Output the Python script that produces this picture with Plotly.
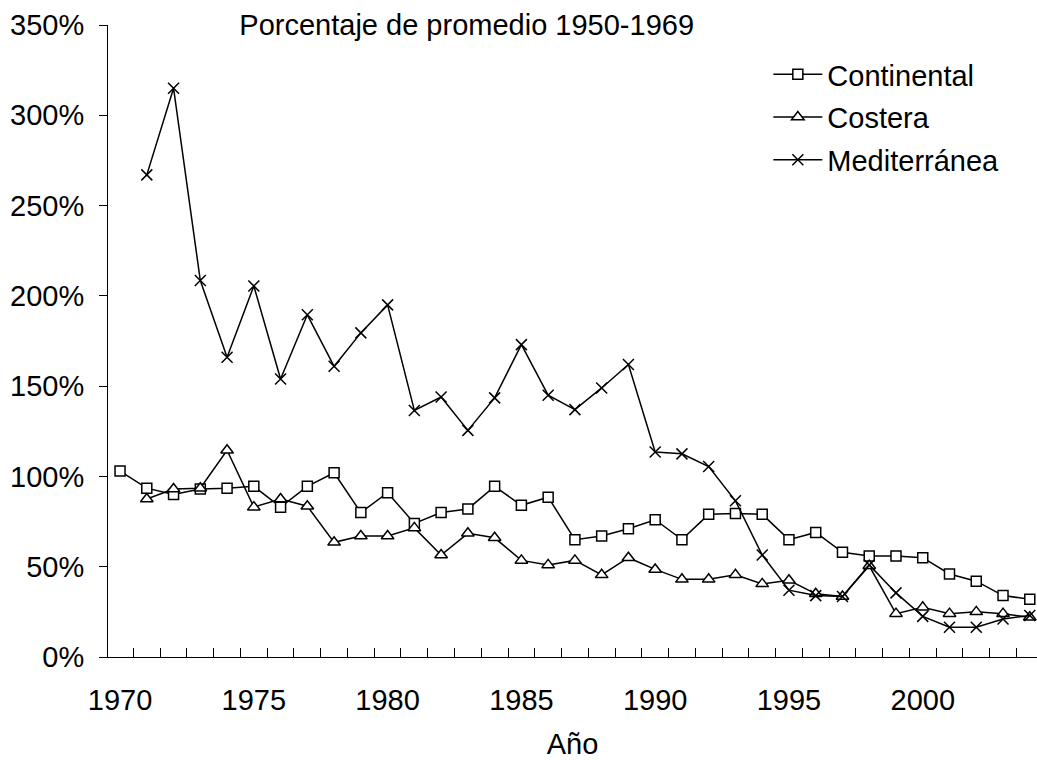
import plotly.graph_objects as go

years = list(range(1970, 2005))

continental = [103, 93.5, 90, 93, 93.5, 94.5, 83, 94.5, 102, 80,
               91, 74, 80, 82, 94.5, 84, 88.5, 65, 67, 71,
               76, 65, 79, 79.5, 79, 65, 69, 58, 56, 56,
               55, 46, 42, 34, 32]

costera = [None, 87.5, 93, 93.5, 114.5, 83, 87.5, 83.5, 63.5, 67,
           67, 71.5, 56.5, 68.5, 66, 53.5, 51, 53.5, 45.5, 55,
           48.5, 43, 43, 45.5, 40.5, 42.5, 35, 33.5, 50.5, 24,
           27.5, 24, 25, 24, 22]

mediterranea = [None, 267, 315, 208.5, 166, 205.5, 154, 189.5, 161, 179.5,
                195, 136.5, 144, 125.5, 143.5, 173, 145, 137, 149, 162,
                113.5, 112.5, 105.5, 86.5, 56.5, 37, 34, 33.5, 51, 35.5,
                22.5, 16.5, 16.5, 21, 23]

series_names = ["Continental", "Costera", "Mediterránea"]
x_tick_years = [1970, 1975, 1980, 1985, 1990, 1995, 2000]
y_ticks = [0, 50, 100, 150, 200, 250, 300, 350]
y_tick_labels = ["0%", "50%", "100%", "150%", "200%", "250%", "300%", "350%"]

FONT = "Liberation Sans, Arial, sans-serif"
FS = 29

fig = go.Figure()

fig.add_trace(go.Scatter(
    x=years, y=continental, name=series_names[0], mode="lines+markers",
    line=dict(color="black", width=1.5),
    marker=dict(symbol="square", size=10, color="white",
                line=dict(color="black", width=1.5)),
    legendgroup="a"))

fig.add_trace(go.Scatter(
    x=years, y=costera, name=series_names[1], mode="lines+markers",
    line=dict(color="black", width=1.5),
    marker=dict(symbol="triangle-up", size=11, color="white",
                line=dict(color="black", width=1.5)),
    legendgroup="b"))

fig.add_trace(go.Scatter(
    x=years, y=mediterranea, name=series_names[2], mode="lines+markers",
    line=dict(color="black", width=1.5),
    marker=dict(symbol="x-thin", size=11, color="black",
                line=dict(color="black", width=1.5)),
    legendgroup="c"))

fig.update_layout(
    width=1037, height=760,
    margin=dict(l=108, r=0, t=25, b=103),
    paper_bgcolor="white", plot_bgcolor="white",
    font=dict(family=FONT, size=FS, color="black"),
    showlegend=True,
    legend=dict(x=0.7108, y=0.962, xanchor="left", yanchor="top",
                font=dict(size=FS), bgcolor="rgba(0,0,0,0)",
                tracegroupgap=2, traceorder="grouped", itemwidth=49),
    title=dict(text="Porcentaje de promedio 1950-1969",
               xref="container", yref="container",
               x=466.7 / 1037, xanchor="center",
               y=1 - 25 / 760, yanchor="middle",
               font=dict(size=FS)),
)

fig.update_xaxes(
    range=[1969.55, 2004.27],
    tickmode="array", tickvals=x_tick_years,
    ticks="", showgrid=False, zeroline=False,
    showline=True, linecolor="black", linewidth=1,
    ticklabelstandoff=17,
    minor=dict(tick0=1969.5, dtick=1, ticks="inside", ticklen=9,
               tickcolor="black", tickwidth=1, showgrid=False),
    title=dict(text="Año", standoff=24, font=dict(size=FS)),
)

fig.update_yaxes(
    range=[0, 350],
    tickmode="array", tickvals=y_ticks, ticktext=y_tick_labels,
    ticks="outside", ticklen=8, tickcolor="black", tickwidth=1,
    showgrid=False, zeroline=False,
    showline=True, linecolor="black", linewidth=1,
    ticklabelstandoff=9,
)

fig.write_html("out.html", config={"displayModeBar": False},
               post_script="document.body.style.margin='0';")
